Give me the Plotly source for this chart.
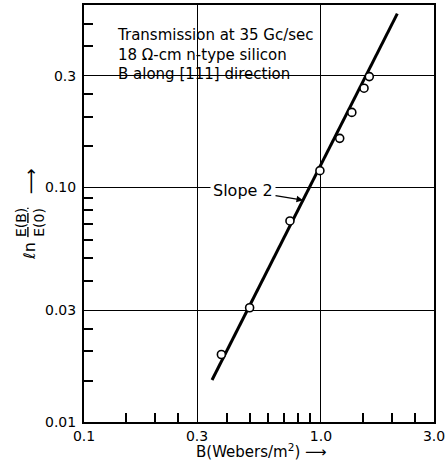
import numpy as np
import plotly.graph_objects as go

# ---- data ----
b_meas = [0.38, 0.50, 0.74, 0.99, 1.20, 1.35, 1.52, 1.60]
ratio_meas = [0.0194, 0.0307, 0.072, 0.118, 0.162, 0.209, 0.265, 0.297]
b_fit = [0.347, 2.10]
ratio_fit = [0.0151, 0.551]
x_tick_vals = [0.1, 0.3, 1.0, 3.0]
x_tick_text = ["0.1", "0.3", "1.0", "3.0"]
y_tick_vals = [0.01, 0.03, 0.1, 0.3]
y_tick_text = ["0.01", "0.03", "0.10", "0.3"]
x_minor_vals = [0.15, 0.2, 0.25, 0.4, 0.5, 0.6, 0.7, 0.8, 0.9, 1.5, 2.0, 2.5]
y_minor_vals = [0.015, 0.02, 0.025, 0.04, 0.05, 0.06, 0.07, 0.08, 0.09,
                0.15, 0.2, 0.25, 0.4, 0.5]
x_range = [0.1, 3.0]
y_range = [0.01, 0.6]
slope_label_b = 0.84
info_lines = ["Transmission at 35 Gc/sec",
              "18 Ω-cm n-type silicon",
              "B along [111] direction"]

FONT = "DejaVu Sans"
W, H = 448, 470
ML, MR, MT, MB = 84, 13, 3, 48
PW, PH = W - ML - MR, H - MT - MB


def px_x(p):
    return (p - ML) / PW


def px_y(p):
    return 1 - (p - MT) / PH


fig = go.Figure()
fig.add_trace(go.Scatter(x=b_fit, y=ratio_fit, mode="lines",
                         line=dict(color="black", width=3),
                         showlegend=False, hoverinfo="skip"))
fig.add_trace(go.Scatter(x=b_meas, y=ratio_meas, mode="markers",
                         marker=dict(symbol="circle", size=8, color="white",
                                     line=dict(color="black", width=1.6)),
                         showlegend=False))

axis_common = dict(
    type="log", showline=True, linecolor="black", linewidth=2, mirror=True,
    showgrid=True, gridcolor="black", gridwidth=1.3, zeroline=False,
    ticks="", tickmode="array",
    tickfont=dict(family=FONT, size=14, color="black"),
)

fig.update_xaxes(
    range=[np.log10(x_range[0]), np.log10(x_range[1])],
    tickvals=x_tick_vals, ticktext=x_tick_text,
    minor=dict(tickmode="array", tickvals=x_minor_vals, ticks="inside",
               ticklen=9, tickwidth=1.5, tickcolor="black", showgrid=False),
    **axis_common)
fig.update_yaxes(
    range=[np.log10(y_range[0]), np.log10(y_range[1])],
    tickvals=y_tick_vals, ticktext=y_tick_text, ticklabelstandoff=3,
    minor=dict(tickmode="array", tickvals=y_minor_vals, ticks="inside",
               ticklen=9, tickwidth=1.5, tickcolor="black", showgrid=False),
    **axis_common)

# white patch behind the info text (covers grid lines like the original)
fig.add_shape(type="rect", xref="paper", yref="paper",
              x0=px_x(101), x1=px_x(318), y0=px_y(80), y1=px_y(5),
              fillcolor="white", line=dict(width=0), layer="between")

fig.add_annotation(xref="paper", yref="paper", x=px_x(115), y=px_y(22),
                   xanchor="left", yanchor="top", align="left",
                   text="<br>".join(info_lines), showarrow=False,
                   font=dict(family=FONT, size=15, color="black"))

# slope label with arrow pointing to the fitted line
slope = np.log(ratio_fit[1] / ratio_fit[0]) / np.log(b_fit[1] / b_fit[0])
slope_label_r = ratio_fit[0] * (slope_label_b / b_fit[0]) ** slope
fig.add_annotation(x=np.log10(slope_label_b), y=np.log10(slope_label_r),
                   xref="x", yref="y", text="Slope 2", showarrow=True,
                   ax=-60, ay=-10, arrowhead=2, arrowsize=1, arrowwidth=1.3,
                   arrowcolor="black", bgcolor="white", borderpad=2,
                   font=dict(family=FONT, size=16, color="black"))

# y-axis title pieces (ln E(B)/E(0) ->)
fig.add_annotation(xref="paper", yref="paper", x=px_x(30), y=px_y(250),
                   xanchor="center", yanchor="middle",
                   text="ℓn", textangle=-90, showarrow=False,
                   font=dict(family=FONT, size=16, color="black"))
fig.add_annotation(xref="paper", yref="paper", x=px_x(30), y=px_y(222),
                   xanchor="center", yanchor="middle",
                   text="<u>E(B)</u><br>E(0)", textangle=-90, showarrow=False,
                   font=dict(family=FONT, size=14, color="black"))
fig.add_annotation(xref="paper", yref="paper", x=px_x(30), y=px_y(180),
                   xanchor="center", yanchor="middle",
                   text="⟶", textangle=-90, showarrow=False,
                   font=dict(family=FONT, size=18, color="black"))

# x-axis title
fig.add_annotation(xref="paper", yref="paper", x=px_x(262), y=px_y(451),
                   xanchor="center", yanchor="middle",
                   text="B(Webers/m<sup>2</sup>) ⟶", showarrow=False,
                   font=dict(family=FONT, size=15, color="black"))

fig.update_layout(width=W, height=H, margin=dict(l=ML, r=MR, t=MT, b=MB),
                  plot_bgcolor="white", paper_bgcolor="white",
                  showlegend=False)

fig.write_html("out.html")
